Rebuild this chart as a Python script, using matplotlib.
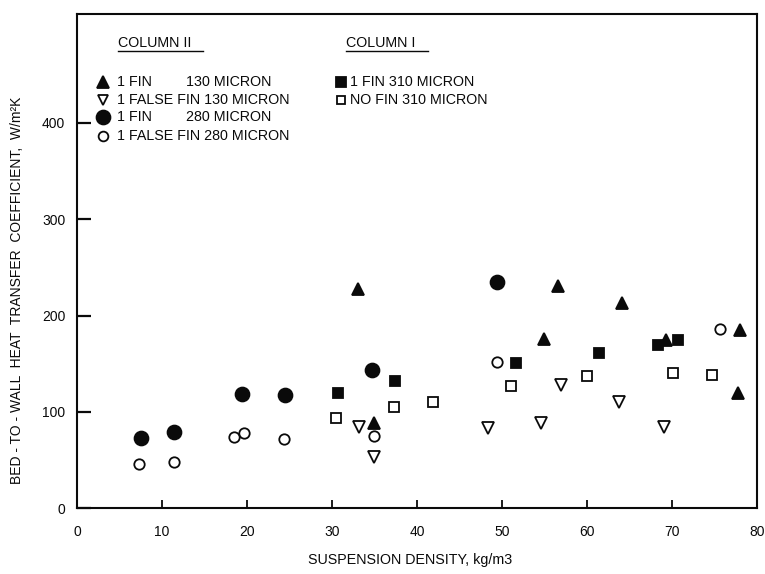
import matplotlib
matplotlib.use("Agg")
import matplotlib.pyplot as plt

plt.rcParams['font.family'] = ['Liberation Sans', 'DejaVu Sans']

# ---- data (suspension density kg/m3, heat transfer coefficient W/m2K) ----
fin130_x = [33.1, 34.9, 54.9, 56.6, 64.1, 69.3, 78.0, 77.8]
fin130_y = [228, 88, 176, 231, 213, 175, 185, 119]

false130_x = [33.2, 34.9, 48.4, 54.6, 56.9, 63.8, 69.0]
false130_y = [84, 53, 83, 88, 128, 110, 84]

fin280_x = [7.5, 11.45, 19.4, 24.5, 34.7, 49.4]
fin280_y = [73, 79, 118, 117, 143, 235]

false280_x = [7.3, 11.4, 18.5, 19.7, 24.4, 34.9, 49.4, 75.6]
false280_y = [46, 48, 74, 78, 72, 75, 152, 186]

fin310_x = [30.7, 37.4, 51.7, 61.4, 68.3, 70.7]
fin310_y = [120, 132, 151, 161, 169, 175]

nofin310_x = [30.5, 37.3, 41.9, 51.0, 60.0, 70.1, 74.7]
nofin310_y = [93, 105, 110, 127, 137, 140, 138]

x_ticks = [0, 10, 20, 30, 40, 50, 60, 70, 80]
y_ticks = [0, 100, 200, 300, 400]

W, H = 765, 574
fig = plt.figure(figsize=(W / 100, H / 100), dpi=100)
L, R, B, T = 77, 757, 508, 14
ax = fig.add_axes([L / W, 1 - B / H, (R - L) / W, (B - T) / H])
ax.set_xlim(0, 80)
ax.set_ylim(0, (B - T) / 0.9625)

ink = '#0a0a0a'
for s in ax.spines.values():
    s.set_linewidth(1.5)
    s.set_color(ink)

ax.set_xticks(x_ticks)
ax.set_yticks(y_ticks)
ax.tick_params(axis='x', direction='in', length=6, width=1.3, pad=12,
               labelsize=10, colors=ink)
ax.tick_params(axis='y', direction='in', length=10, width=1.6, pad=8.5,
               labelsize=10, colors=ink)

ax.set_xlabel('SUSPENSION DENSITY, kg/m3', fontsize=10.3, color=ink)
ax.xaxis.set_label_coords((410 - L) / (R - L), -(553 - B) / (B - T))
ax.set_ylabel('BED - TO - WALL  HEAT  TRANSFER  COEFFICIENT,  W/m\u00b2K',
              fontsize=10, color=ink)
ax.yaxis.set_label_coords((24 - L) / (R - L), (B - 290) / (B - T))

lw = 1.3
ax.plot(fin130_x, fin130_y, linestyle='none', marker='^', ms=9,
        mfc=ink, mec=ink, mew=lw, clip_on=False)
ax.plot(false130_x, false130_y, linestyle='none', marker='v', ms=8,
        mfc='white', mec=ink, mew=lw, clip_on=False)
ax.plot(fin280_x, fin280_y, linestyle='none', marker='o', ms=10,
        mfc=ink, mec=ink, mew=lw, clip_on=False)
ax.plot(false280_x, false280_y, linestyle='none', marker='o', ms=7.5,
        mfc='white', mec=ink, mew=lw, clip_on=False)
ax.plot(fin310_x, fin310_y, linestyle='none', marker='s', ms=6.5,
        mfc=ink, mec=ink, mew=lw, clip_on=False)
ax.plot(nofin310_x, nofin310_y, linestyle='none', marker='s', ms=6.5,
        mfc='white', mec=ink, mew=lw, clip_on=False)

# ---- legend drawn in figure pixel coordinates ----
def fx(px):
    return px / W

def fy(py):
    return 1 - py / H

fs = 10.3
fig.text(fx(118), fy(43), 'COLUMN II', fontsize=fs, color=ink, va='center')
fig.text(fx(346), fy(43), 'COLUMN I', fontsize=fs, color=ink, va='center')
fig.lines.append(plt.Line2D([fx(118), fx(203)], [fy(51), fy(51)],
                            transform=fig.transFigure, color=ink, lw=1.0))
fig.lines.append(plt.Line2D([fx(346), fx(428)], [fy(51), fy(51)],
                            transform=fig.transFigure, color=ink, lw=1.0))

rows = [82, 100, 117, 136]
mk = dict(linestyle='none', transform=fig.transFigure, mew=lw)
leg = [
    ('^', 8, ink, '1 FIN', '130 MICRON'),
    ('v', 7, 'white', '1 FALSE FIN 130 MICRON', None),
    ('o', 10, ink, '1 FIN', '280 MICRON'),
    ('o', 7, 'white', '1 FALSE FIN 280 MICRON', None),
]
for (m, ms, fc, t1, t2), ry in zip(leg, rows):
    fig.lines.append(plt.Line2D([fx(103)], [fy(ry)], marker=m, ms=ms,
                                mfc=fc, mec=ink, **mk))
    fig.text(fx(117), fy(ry), t1, fontsize=fs, color=ink, va='center')
    if t2:
        fig.text(fx(186), fy(ry), t2, fontsize=fs, color=ink, va='center')

leg2 = [('s', 6.5, ink, '1 FIN 310 MICRON'), ('s', 6, 'white', 'NO FIN 310 MICRON')]
for (m, ms, fc, t1), ry in zip(leg2, rows[:2]):
    fig.lines.append(plt.Line2D([fx(341)], [fy(ry)], marker=m, ms=ms,
                                mfc=fc, mec=ink, **mk))
    fig.text(fx(350), fy(ry), t1, fontsize=fs, color=ink, va='center')

fig.savefig('out.png', dpi=100)
